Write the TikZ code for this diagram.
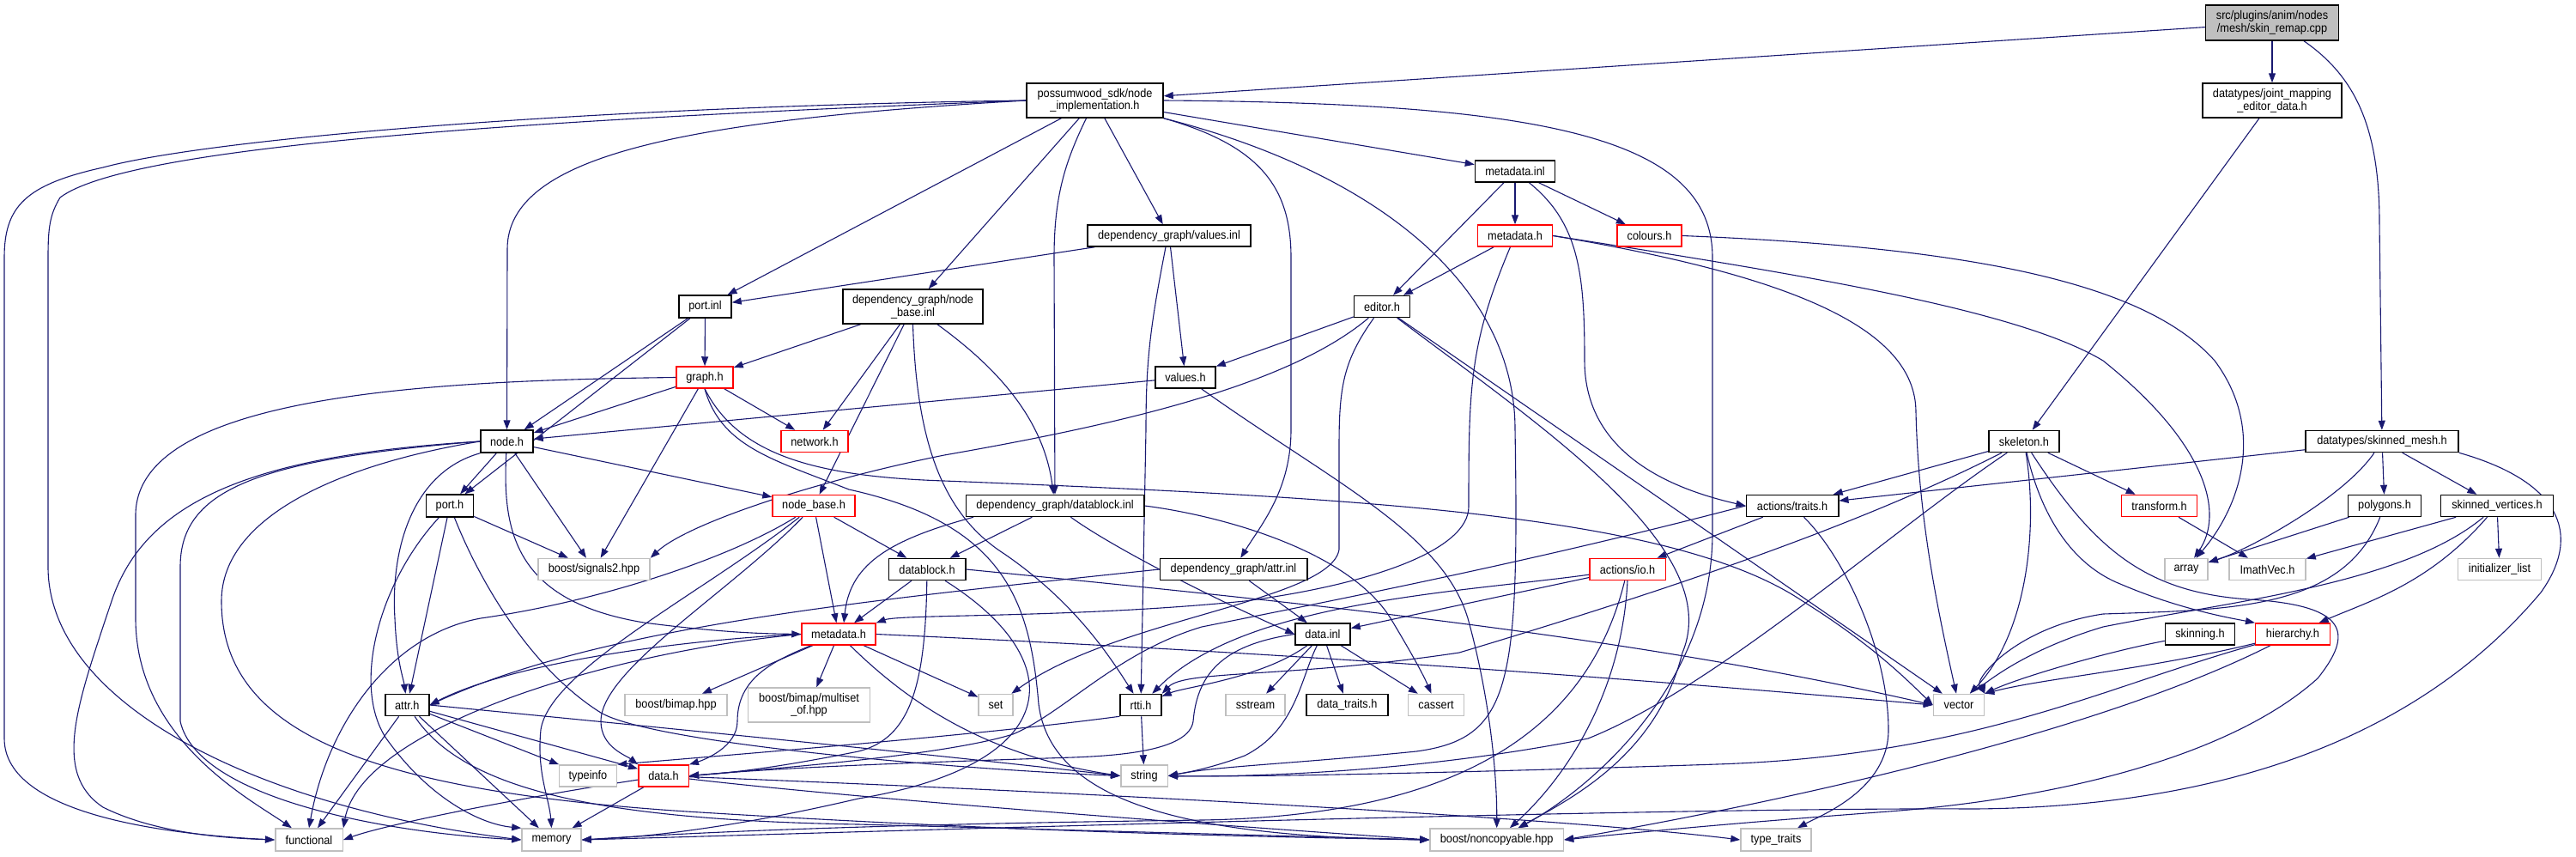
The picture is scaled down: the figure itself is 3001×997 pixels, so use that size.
\documentclass[tikz,border=0pt]{standalone}
\usepackage{fontspec}
\newfontfamily\dxfont{Liberation Sans}[FakeStretch=0.91]
\usetikzlibrary{arrows.meta,backgrounds}
\definecolor{edgeblue}{HTML}{191970}
\definecolor{grayse}{HTML}{BFBFBF}
\definecolor{redse}{HTML}{FF0000}
\newcommand{\dxnode}[6]{\node[#1, minimum width=#4pt, minimum height=#5pt] (#2) at #3 {#6};}
\tikzset{
  box/.style={draw=black, line width=1.5pt, inner sep=0pt, align=center, font=\dxfont\fontsize{14pt}{14.7pt}\selectfont, fill=white},
  redbox/.style={box, draw=redse},
  extbox/.style={box, draw=grayse},
  rootbox/.style={box, fill=grayse},
  dep/.style={draw=edgeblue, line width=1.1pt, -{Triangle[length=11pt,width=8pt]}}
}
\begin{document}
\begin{tikzpicture}[x=1pt,y=-1pt]
\useasboundingbox (0,0) rectangle (3001,997);
% nodes
\dxnode{rootbox}{root}{(2647,26.5)}{155}{41}{src/plugins/anim/nodes\\/mesh/skin\_remap.cpp}
\dxnode{box}{jm}{(2647,117)}{162}{40}{datatypes/joint\_mapping\\\_editor\_data.h}
\dxnode{box}{ni}{(1275.5,117)}{159}{40}{possumwood\_sdk/node\\\_implementation.h}
\dxnode{box}{mdinl}{(1765,199.5)}{93}{25}{metadata.inl}
\dxnode{box}{vinl}{(1362,274.5)}{190}{25}{dependency\_graph/values.inl}
\dxnode{redbox}{mdtop}{(1765,274.5)}{87}{25}{metadata.h}
\dxnode{redbox}{col}{(1921.5,274.5)}{75}{25}{colours.h}
\dxnode{box}{pinl}{(821.5,357)}{61}{26}{port.inl}
\dxnode{box}{nbinl}{(1063.5,357)}{163}{40}{dependency\_graph/node\\\_base.inl}
\dxnode{box}{ed}{(1610,357)}{65}{25}{editor.h}
\dxnode{redbox}{gr}{(821,439.5)}{66}{25}{graph.h}
\dxnode{box}{vh}{(1381,439.5)}{70}{25}{values.h}
\dxnode{box}{nodeh}{(590.5,514)}{61}{26}{node.h}
\dxnode{redbox}{net}{(949,514)}{78}{25}{network.h}
\dxnode{box}{skel}{(2358,514)}{82}{25}{skeleton.h}
\dxnode{box}{sm}{(2775,514)}{178}{25}{datatypes/skinned\_mesh.h}
\dxnode{box}{porth}{(524,589)}{55}{26}{port.h}
\dxnode{redbox}{nbh}{(948,589)}{96}{25}{node\_base.h}
\dxnode{box}{dbinl}{(1229,589)}{207.5}{25}{dependency\_graph/datablock.inl}
\dxnode{box}{traits}{(2088,589)}{107.5}{25}{actions/traits.h}
\dxnode{redbox}{tr}{(2515.5,589)}{88}{25}{transform.h}
\dxnode{box}{poly}{(2778,589)}{85}{25}{polygons.h}
\dxnode{box}{sv}{(2909,589)}{130.6}{25}{skinned\_vertices.h}
\dxnode{extbox}{sig}{(692,663)}{130}{25}{boost/signals2.hpp}
\dxnode{box}{dbh}{(1080,663)}{89.5}{25}{datablock.h}
\dxnode{box}{ainl}{(1437,663)}{171.5}{25}{dependency\_graph/attr.inl}
\dxnode{redbox}{io}{(1896,663)}{88.5}{25}{actions/io.h}
\dxnode{extbox}{arr}{(2547,663)}{50}{25}{array}
\dxnode{extbox}{imath}{(2641.5,663)}{89}{25}{ImathVec.h}
\dxnode{extbox}{il}{(2912,663)}{97}{25}{initializer\_list}
\dxnode{redbox}{mdh}{(977,738.5)}{86}{25}{metadata.h}
\dxnode{box}{dinl}{(1541,738.5)}{64}{25}{data.inl}
\dxnode{box}{skin}{(2563,738.5)}{81}{25}{skinning.h}
\dxnode{redbox}{hier}{(2671,738.5)}{86.6}{25}{hierarchy.h}
\dxnode{box}{attrh}{(474.3,821)}{51}{25}{attr.h}
\dxnode{extbox}{bimap}{(787.5,821)}{119}{25}{boost/bimap.hpp}
\dxnode{extbox}{mso}{(942.5,821)}{142}{40}{boost/bimap/multiset\\\_of.hpp}
\dxnode{extbox}{set}{(1160,821)}{40}{25}{set}
\dxnode{box}{rtti}{(1329,821)}{48}{25}{rtti.h}
\dxnode{extbox}{ss}{(1462.5,821)}{69}{25}{sstream}
\dxnode{box}{dtr}{(1569.4,821)}{94.7}{25}{data\_traits.h}
\dxnode{extbox}{cas}{(1673,821)}{65}{25}{cassert}
\dxnode{extbox}{vec}{(2282,821)}{59}{25}{vector}
\dxnode{extbox}{typ}{(685,903.5)}{67}{25}{typeinfo}
\dxnode{redbox}{datah}{(773,903.5)}{58.5}{25}{data.h}
\dxnode{extbox}{str}{(1333,903.5)}{54.5}{25}{string}
\dxnode{extbox}{func}{(360,978)}{78.5}{26}{functional}
\dxnode{extbox}{mem}{(642.5,978)}{69}{26}{memory}
\dxnode{extbox}{nc}{(1743.7,978)}{155.5}{26}{boost/noncopyable.hpp}
\dxnode{extbox}{tt}{(2069,978)}{82}{26}{type\_traits}
% edges
\begin{pgfonlayer}{background}
\draw[dep] (root) -- (ni);
\draw[dep] (root) -- (jm);
\draw[dep] ([xshift=37pt]root.south) .. controls (2745,90) and (2772,150) .. (2772,260) -- (sm);
\draw[dep] (jm) -- (skel);
% node_implementation
\draw[dep] (ni.west) .. controls (700,124) and (250,160) .. (120,195) .. controls (30,215) and (5,240) .. (5,300) -- (5,860) .. controls (5,950) and (200,972) .. (func.west);
\draw[dep] (ni.west) .. controls (600,140) and (150,170) .. (70,230) .. controls (58,250) and (56,265) .. (56,300) -- (56,660) .. controls (56,820) and (300,940) .. (mem.west);
\draw[dep] (ni.west) .. controls (800,140) and (591,180) .. (591,290) -- (nodeh);
\draw[dep] (ni) -- (pinl);
\draw[dep] (ni) -- (nbinl);
\draw[dep] ([xshift=-10pt]ni.south) .. controls (1240,190) and (1228,230) .. (1228,300) -- (dbinl);
\draw[dep] (ni) -- (vinl);
\draw[dep] (ni) -- (mdinl);
\draw[dep] (ni.south east) .. controls (1470,170) and (1504,220) .. (1504,300) -- (1504,500) .. controls (1504,570) and (1470,610) .. (ainl);
\draw[dep] (ni.south east) .. controls (1600,200) and (1765,330) .. (1765,500) .. controls (1770,800) and (1760,860) .. (1650,875) .. controls (1500,890) and (1420,892) .. (str.east);
\draw[dep] (ni.east) .. controls (1800,120) and (1995,160) .. (1995,300) -- (1995,620) .. controls (1995,800) and (1850,920) .. (nc);
% values.inl
\draw[dep] (vinl) -- (pinl);
\draw[dep] (vinl) -- (vh);
\draw[dep] ([xshift=-4pt]vinl.south) .. controls (1340,380) and (1335,420) .. (1335,500) -- (rtti);
% port.inl
\draw[dep] (pinl) -- (gr);
\draw[dep] (pinl) -- (nodeh);
\draw[dep] (pinl) -- (porth);
% node_base.inl
\draw[dep] (nbinl) -- (gr);
\draw[dep] (nbinl) -- (net);
\draw[dep] (nbinl) -- (nbh);
\draw[dep] (nbinl) .. controls (1150,420) and (1215,480) .. (dbinl);
\draw[dep] (nbinl.south) .. controls (1068,520) and (1100,600) .. (1170,645) .. controls (1250,700) and (1290,760) .. (rtti);
% graph.h
\draw[dep] (gr) -- (nodeh);
\draw[dep] (gr.west) .. controls (500,443) and (158,460) .. (158,600) -- (158,720) .. controls (158,860) and (290,930) .. (func);
\draw[dep] (gr) -- (net);
\draw[dep] (gr) -- (sig);
\draw[dep] (gr.south) .. controls (840,520) and (900,535) .. (989,570) .. controls (1170,610) and (1200,700) .. (1210,820) .. controls (1225,940) and (1400,975) .. (nc.west);
\draw[dep] (gr.south) .. controls (860,530) and (950,555) .. (1100,560) .. controls (1600,580) and (1950,600) .. (2100,700) .. controls (2180,750) and (2220,790) .. (vec.west);
% values.h
\draw[dep] (vh) -- (nodeh);
\draw[dep] (vh) .. controls (1550,560) and (1680,620) .. (1710,720) .. controls (1735,810) and (1744,900) .. (nc.north);
% metadata.inl
\draw[dep] (mdinl) -- (mdtop);
\draw[dep] (mdinl) -- (col);
\draw[dep] (mdinl) -- (ed);
\draw[dep] (mdinl) .. controls (1840,260) and (1846,320) .. (1846,420) .. controls (1846,530) and (1950,570) .. (traits.west);
% metadata.h (sdk)
\draw[dep] (mdtop) -- (ed);
\draw[dep] (mdtop.east) .. controls (2100,320) and (2350,360) .. (2450,420) .. controls (2575,520) and (2590,600) .. (arr);
\draw[dep] (mdtop.east) .. controls (2080,320) and (2232,380) .. (2232,480) .. controls (2235,600) and (2255,700) .. (vec);
\draw[dep] (mdtop) .. controls (1712,400) and (1711,450) .. (1711,590) .. controls (1711,640) and (1600,680) .. (1450,700) .. controls (1250,720) and (1050,715) .. (mdh.north east);
% colours.h
\draw[dep] (col.east) .. controls (2300,288) and (2500,330) .. (2580,420) .. controls (2640,500) and (2610,590) .. (arr);
% editor.h
\draw[dep] (ed) -- (vh);
\draw[dep] (ed) .. controls (1500,450) and (1300,495) .. (1100,530) .. controls (950,560) and (800,610) .. (sig.north east);
\draw[dep] (ed) .. controls (1565,420) and (1560,450) .. (1560,520) -- (1560,640) .. controls (1550,700) and (1300,720) .. (set);
\draw[dep] (ed) .. controls (1800,500) and (2010,640) .. (1960,760) .. controls (1930,880) and (1830,930) .. (nc);
\draw[dep] (ed) -- (vec);
% skeleton.h
\draw[dep] (skel) -- (traits);
\draw[dep] (skel) -- (tr);
\draw[dep] (skel) .. controls (2375,620) and (2360,740) .. (vec);
\draw[dep] (skel) .. controls (2380,610) and (2420,660) .. (2470,680) .. controls (2540,710) and (2600,720) .. (hier.north west);
\draw[dep] (skel) .. controls (2440,640) and (2500,690) .. (2620,698) .. controls (2740,705) and (2740,740) .. (2700,790) .. controls (2600,880) and (2400,930) .. (2200,945) .. controls (2000,960) and (1900,970) .. (nc.east);
\draw[dep] (skel) .. controls (2200,620) and (2000,800) .. (1850,860) .. controls (1650,900) and (1450,905) .. (str.east);
\draw[dep] (skel) .. controls (2150,620) and (1900,700) .. (1700,760) .. controls (1500,790) and (1380,780) .. (rtti.north east);
% skinned_mesh.h
\draw[dep] (sm) -- (traits);
\draw[dep] (sm) .. controls (2730,580) and (2620,640) .. (arr);
\draw[dep] (sm) -- (poly);
\draw[dep] (sm) -- (sv);
\draw[dep] (sm.south east) .. controls (2980,560) and (3010,620) .. (2960,690) .. controls (2800,880) and (2550,940) .. (2300,942) .. controls (1900,940) and (900,972) .. (mem.east);
% node.h
\draw[dep] (nodeh) -- (porth);
\draw[dep] (nodeh) -- (sig);
\draw[dep] (nodeh.south west) .. controls (480,550) and (455,640) .. (460,720) .. controls (462,770) and (470,790) .. (attrh);
\draw[dep] (nodeh) -- (nbh);
\draw[dep] (nodeh) .. controls (585,620) and (600,700) .. (750,725) .. controls (850,738) and (900,738) .. (mdh.west);
\draw[dep] (nodeh.west) .. controls (300,530) and (170,580) .. (130,700) .. controls (90,820) and (60,900) .. (120,940) .. controls (180,970) and (260,976) .. (func.west);
\draw[dep] (nodeh.west) .. controls (300,535) and (210,570) .. (210,660) -- (210,840) .. controls (230,930) and (450,970) .. (mem.west);
\draw[dep] (nodeh.west) .. controls (400,540) and (258,600) .. (258,700) .. controls (258,850) and (420,920) .. (800,945) .. controls (1200,970) and (1500,975) .. (nc.west);
% port.h
\draw[dep] (porth) -- (sig);
\draw[dep] (porth) -- (attrh);
\draw[dep] (porth) .. controls (560,680) and (620,780) .. (700,830) .. controls (760,865) and (1100,895) .. (str.west);
\draw[dep] (porth) .. controls (440,680) and (410,800) .. (450,860) .. controls (500,930) and (560,960) .. (mem.north west);
% node_base.h
\draw[dep] (nbh) -- (mdh);
\draw[dep] (nbh) -- (dbh);
\draw[dep] (nbh) .. controls (850,650) and (700,700) .. (560,720) .. controls (450,740) and (380,850) .. (func.north);
\draw[dep] (nbh) .. controls (850,690) and (700,780) .. (700,840) .. controls (700,870) and (730,880) .. (datah.north west);
\draw[dep] (nbh) .. controls (820,690) and (640,780) .. (630,850) .. controls (625,900) and (640,930) .. (mem.north);
% datablock.inl
\draw[dep] (dbinl) -- (dbh);
\draw[dep] ([xshift=-95pt]dbinl.south) .. controls (1030,630) and (990,660) .. ([xshift=6pt]mdh.north);
\draw[dep] (dbinl) .. controls (1300,640) and (1420,700) .. (dinl.west);
\draw[dep] (dbinl.east) .. controls (1420,600) and (1570,640) .. (1620,720) .. controls (1650,770) and (1660,790) .. (cas);
% actions/traits.h
\draw[dep] (traits) -- (io);
\draw[dep] (traits) .. controls (2150,650) and (2200,760) .. (2200,850) .. controls (2200,920) and (2120,950) .. (tt);
\draw[dep] (traits.west) .. controls (1800,650) and (1600,690) .. (1400,730) .. controls (1300,760) and (1240,830) .. (1180,855) .. controls (1100,880) and (900,895) .. (datah.east);
% transform, polygons, skinned_vertices
\draw[dep] (tr) -- (imath);
\draw[dep] (poly) -- (arr);
\draw[dep] (poly) .. controls (2730,710) and (2600,710) .. (2450,715) .. controls (2350,730) and (2300,790) .. (vec.north east);
\draw[dep] (sv) -- (imath);
\draw[dep] (sv) -- (il);
\draw[dep] (sv) .. controls (2830,680) and (2760,700) .. (hier);
\draw[dep] (sv) .. controls (2800,680) and (2600,700) .. (2450,730) .. controls (2350,760) and (2310,800) .. (vec.north east);
% datablock.h
\draw[dep] (dbh) -- (mdh);
\draw[dep] (dbh) .. controls (1078,800) and (1060,860) .. (1000,875) .. controls (900,895) and (850,900) .. (datah.east);
\draw[dep] (dbh) .. controls (1250,770) and (1240,890) .. (1000,930) .. controls (850,965) and (750,975) .. (mem.east);
\draw[dep] (dbh.east) .. controls (1500,700) and (1900,740) .. (vec.west);
% attr.inl
\draw[dep] (ainl) -- (dinl);
\draw[dep] (ainl.west) .. controls (1000,700) and (700,730) .. (attrh.east);
% actions/io.h
\draw[dep] (io) -- (dinl);
\draw[dep] (io) .. controls (1700,690) and (1450,700) .. (rtti);
\draw[dep] (io.south) .. controls (1890,800) and (1830,900) .. (nc);
\draw[dep] (io) .. controls (1850,850) and (1700,950) .. (1400,955) .. controls (1000,960) and (800,970) .. (mem.east);
% metadata.h (dependency_graph)
\draw[dep] (mdh) -- (bimap);
\draw[dep] (mdh) -- (mso);
\draw[dep] (mdh) -- (set);
\draw[dep] (mdh) .. controls (1060,820) and (1150,880) .. (str.west);
\draw[dep] (mdh.west) .. controls (800,745) and (600,770) .. (attrh.east);
\draw[dep] (mdh.west) .. controls (700,760) and (420,850) .. (func.north east);
\draw[dep] (mdh.east) .. controls (1500,760) and (1900,790) .. (vec.west);
\draw[dep] (mdh) .. controls (900,770) and (859,790) .. (859,840) .. controls (859,870) and (820,885) .. (datah.north east);
% data.inl
\draw[dep] (dinl) -- (dtr);
\draw[dep] (dinl) -- (cas);
\draw[dep] (dinl) .. controls (1470,790) and (1380,800) .. (rtti);
\draw[dep] (dinl) -- (ss);
\draw[dep] (dinl) .. controls (1515,790) and (1510,850) .. (1450,880) .. controls (1410,895) and (1380,900) .. (str.east);
\draw[dep] (dinl.west) .. controls (1430,750) and (1395,780) .. (1390,840) .. controls (1385,875) and (1300,880) .. (1250,882) .. controls (1000,890) and (900,895) .. (datah.east);
% skinning, hierarchy
\draw[dep] (skin) .. controls (2450,760) and (2350,790) .. (vec.north east);
\draw[dep] (hier) .. controls (2500,780) and (2380,790) .. (vec.north east);
\draw[dep] (hier) .. controls (2450,800) and (2300,880) .. (2000,890) .. controls (1700,900) and (1450,905) .. (str.east);
\draw[dep] (hier) .. controls (2450,850) and (2100,930) .. (nc.east);
% attr.h
\draw[dep] (attrh) -- (func);
\draw[dep] (attrh) -- (mem);
\draw[dep] (attrh) .. controls (540,920) and (700,955) .. (1000,960) .. controls (1300,968) and (1550,975) .. (nc.west);
\draw[dep] (attrh) -- (datah);
\draw[dep] (attrh) -- (typ);
\draw[dep] (attrh.east) .. controls (800,850) and (1100,880) .. (str.west);
% rtti.h
\draw[dep] (rtti) -- (str);
\draw[dep] (rtti.south west) .. controls (1150,855) and (900,875) .. (typ.north east);
% data.h
\draw[dep] (datah) .. controls (600,930) and (450,960) .. (func.east);
\draw[dep] (datah) -- (mem);
\draw[dep] (datah) .. controls (1000,930) and (1400,960) .. (nc.west);
\draw[dep] (datah) .. controls (1200,920) and (1800,950) .. (tt.west);
\end{pgfonlayer}
\end{tikzpicture}
\end{document}
